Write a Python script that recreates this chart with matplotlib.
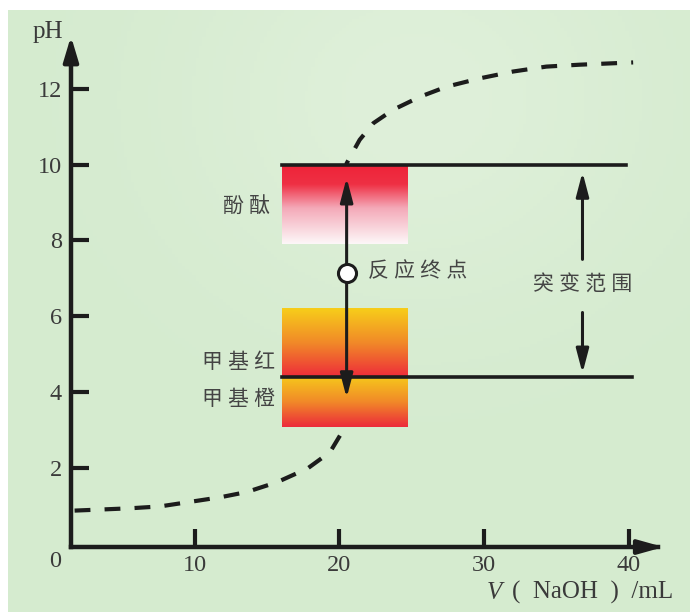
import numpy as np
import matplotlib
matplotlib.use('Agg')
import matplotlib.pyplot as plt
from matplotlib.colors import LinearSegmentedColormap, to_rgb
from matplotlib.patches import FancyArrowPatch

plt.rcParams['font.family'] = ['Liberation Serif', 'Noto Sans CJK SC']

# values
ph_ticks = [2, 4, 6, 8, 10, 12]
v_ticks = [10, 20, 30, 40]
# the curve disappears behind the colour boxes and the arrow, so it is two pieces
low_v = [1.7, 5.5, 7.6, 9.5, 11.75, 13.6, 15.7, 17.8, 19.35, 20.25, 20.4]
low_ph = [0.88, 0.94, 0.99, 1.10, 1.23, 1.37, 1.63, 1.99, 2.42, 2.99, 3.4]
high_v = [20.45, 20.5, 21.4, 22.35, 23.7, 25.6, 27.4, 29.7, 32.0, 34.3, 36.6, 40.3]
high_ph = [9.7, 10.03, 10.65, 11.09, 11.44, 11.79, 12.05, 12.27, 12.45, 12.58, 12.63, 12.69]

box_v = [16.0, 24.7]            # x range of indicator colour boxes
phenolphthalein = [7.9, 10.0]
methyl_red = [4.4, 6.2]
methyl_orange = [3.08, 4.4]
line_ends = [39.8, 40.2]        # right ends of the pH 10 and pH 4.4 lines
endpoint_v, endpoint_ph = 20.5, 7.15
endpoint_arrow = [3.85, 9.65]
jump_v = 36.8
jump_up = [7.5, 9.8]
jump_down = [6.1, 4.5]

ink = '#1c1c1c'
txt = '#3a3a3a'

fig = plt.figure(figsize=(6.9, 6.12), dpi=100)
fig.patch.set_facecolor('white')

# light green background, slightly lighter near the top middle
bg_ax = fig.add_axes([8 / 690, 0, 1 - 8 / 690, 1 - 10 / 612])
yy, xx = np.mgrid[0:1:200j, 0:1:200j]
glow = np.exp(-((xx - 0.6) ** 2 / 0.12 + (yy - 0.15) ** 2 / 0.12))
base = np.array(to_rgb('#d5ebcf'))
light = np.array(to_rgb('#dff0da'))
bg = base + (light - base) * glow[..., None]
bg_ax.imshow(bg, aspect='auto')
bg_ax.axis('off')

ax = fig.add_axes([0, 0, 1, 1])
ax.patch.set_alpha(0)

# dashed titration curve
for v, ph in [(low_v, low_ph), (high_v, high_ph)]:
    ax.plot(v, ph, color=ink, lw=3, dashes=(3.8, 3.4), dash_capstyle='butt', zorder=2)


def grad_box(x0, x1, y0, y1, colors):
    cmap = LinearSegmentedColormap.from_list('g', colors)
    grad = np.linspace(1, 0, 100).reshape(-1, 1)
    ax.imshow(grad, cmap=cmap, aspect='auto', extent=(x0, x1, y0, y1),
              interpolation='bicubic', zorder=3)


grad_box(box_v[0], box_v[1], phenolphthalein[0], phenolphthalein[1],
         [(0, '#fdf7f8'), (0.45, '#f4a9b8'), (0.75, '#ef3044'), (1, '#ee2338')])
grad_box(box_v[0], box_v[1], methyl_red[0], methyl_red[1],
         [(0, '#ee2c3a'), (0.5, '#f18a28'), (1, '#f7cd1a')])
grad_box(box_v[0], box_v[1], methyl_orange[0], methyl_orange[1],
         [(0, '#ec2b3b'), (0.5, '#f18a28'), (1, '#f6c81c')])

# horizontal lines at pH 10 and 4.4
ax.plot([box_v[0], line_ends[0]], [phenolphthalein[1]] * 2, color=ink, lw=2.6, zorder=4)
ax.plot([box_v[0], line_ends[1]], [methyl_red[0]] * 2, color=ink, lw=2.6, zorder=4)


def arrow(p0, p1, style='-|>'):
    a = FancyArrowPatch(p0, p1, arrowstyle=style + ',head_length=1.45,head_width=0.38',
                        mutation_scale=10, color=ink, lw=2.2, shrinkA=0, shrinkB=0, zorder=5)
    ax.add_patch(a)


arrow((endpoint_v, endpoint_arrow[0]), (endpoint_v, endpoint_arrow[1]), '<|-|>')
arrow((jump_v, jump_up[0]), (jump_v, jump_up[1]))
arrow((jump_v, jump_down[0]), (jump_v, jump_down[1]))
ax.plot([endpoint_v], [endpoint_ph], 'o', ms=13, mfc='white', mec=ink, mew=2.2, zorder=6)

# axes
x_axis0, y_axis0 = 1.45, -0.08
ax.spines['left'].set_position(('data', x_axis0))
ax.spines['bottom'].set_position(('data', y_axis0))
ax.spines['left'].set_bounds(y_axis0, 13.0)
ax.spines['bottom'].set_bounds(x_axis0, 42.0)
for s in ['left', 'bottom']:
    ax.spines[s].set_linewidth(3.2)
    ax.spines[s].set_color(ink)
    ax.spines[s].set_zorder(7)
ax.spines['top'].set_visible(False)
ax.spines['right'].set_visible(False)
ax.add_patch(FancyArrowPatch((x_axis0, 12.6), (x_axis0, 13.38),
                             arrowstyle='-|>,head_length=1.5,head_width=0.45',
                             mutation_scale=10, color=ink, lw=3, shrinkA=0, shrinkB=0, zorder=7))
ax.add_patch(FancyArrowPatch((41.5, y_axis0), (42.4, y_axis0),
                             arrowstyle='-|>,head_length=1.5,head_width=0.42',
                             mutation_scale=10, color=ink, lw=3, shrinkA=0, shrinkB=0, zorder=7))

ax.set_xticks(v_ticks)
ax.set_yticks(ph_ticks)
ax.tick_params(direction='in', length=13, width=3, color=ink, labelsize=17.5,
               labelcolor=txt, top=False, right=False)
ax.tick_params(axis='x', pad=6)
ax.tick_params(axis='y', pad=6.5)

ax.text(0.38, -0.45, '0', ha='center', va='center', fontsize=17.5, color=txt)
ax.text(-0.14, 13.5, 'pH', ha='center', va='center', fontsize=18, color=txt)
ax.text(30.2, -1.29, 'V', ha='left', va='center', fontsize=18, color=txt, style='italic')
ax.text(43.05, -1.29, '(  NaOH  )  /mL', ha='right', va='center', fontsize=18, color=txt)

cjk = dict(fontsize=15, color='#444444', va='center')
ax.text(15.2, 8.88, '酚 酞', ha='right', **cjk)
ax.text(15.55, 4.77, '甲 基 红', ha='right', **cjk)
ax.text(15.55, 3.79, '甲 基 橙', ha='right', **cjk)
ax.text(21.98, endpoint_ph, '反 应 终 点', ha='left', **cjk)
ax.text(jump_v, 6.82, '突 变 范 围', ha='center', **cjk)

ax.set_xlim(-3.455, 44.23)
ax.set_ylim(-1.792, 14.335)

fig.savefig('out.png', dpi=100, facecolor=fig.get_facecolor())
